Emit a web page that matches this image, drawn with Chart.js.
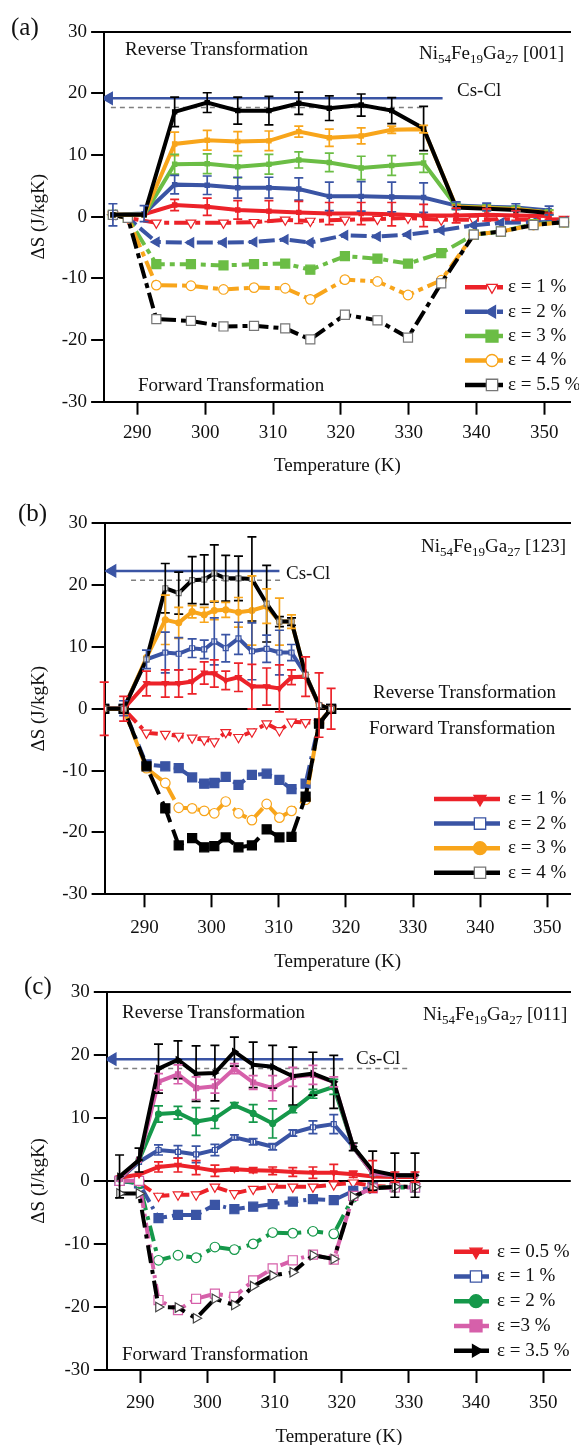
<!DOCTYPE html>
<html>
<head>
<meta charset="utf-8">
<script src="https://cdn.jsdelivr.net/npm/chart.js@4.4.1/dist/chart.umd.min.js"></script>
<style>
  html, body { margin: 0; padding: 0; background: #fff; }
  body { position: relative; width: 579px; height: 1445px; overflow: hidden;
         font-family: "Liberation Serif", "Times New Roman", serif; color: #111; }
  canvas { position: absolute; left: 0; }
  .note { position: absolute; font-size: 19px; line-height: 1; white-space: nowrap; transform: translateY(-50%); }
  .note sub { font-size: 13px; vertical-align: -4px; line-height: 0; }
  .tag { font-size: 25px; }
</style>
</head>
<body>
<canvas id="chartA" width="579" height="480" style="top:0"></canvas>
<canvas id="chartB" width="579" height="505" style="top:470px"></canvas>
<canvas id="chartC" width="579" height="500" style="top:950px"></canvas>

<div class="note tag" style="left:11px;top:26px">(a)</div>
<div class="note" style="left:125px;top:48px">Reverse Transformation</div>
<div class="note" style="left:419px;top:52px">Ni<sub>54</sub>Fe<sub>19</sub>Ga<sub>27</sub> [001]</div>
<div class="note" style="left:457px;top:89px">Cs-Cl</div>
<div class="note" style="left:138px;top:384px">Forward Transformation</div>

<div class="note tag" style="left:18px;top:512px">(b)</div>
<div class="note" style="left:421px;top:545px">Ni<sub>54</sub>Fe<sub>19</sub>Ga<sub>27</sub> [123]</div>
<div class="note" style="left:286px;top:572px">Cs-Cl</div>
<div class="note" style="left:373px;top:691px">Reverse Transformation</div>
<div class="note" style="left:369px;top:727px">Forward Transformation</div>

<div class="note tag" style="left:24px;top:985px">(c)</div>
<div class="note" style="left:122px;top:1011px">Reverse Transformation</div>
<div class="note" style="left:423px;top:1013px">Ni<sub>54</sub>Fe<sub>19</sub>Ga<sub>27</sub> [011]</div>
<div class="note" style="left:356px;top:1057px">Cs-Cl</div>
<div class="note" style="left:122px;top:1353px">Forward Transformation</div>

<script>
// axis ticks
const tempTicks = [290, 300, 310, 320, 330, 340, 350];
const dsTicks = [-30, -20, -10, 0, 10, 20, 30];

// ---- (a) [001] ----
const labelsA = ['ε = 1 %', 'ε = 2 %', 'ε = 3 %', 'ε = 4 %', 'ε = 5.5 %'];
const tempRevA = [286.4, 291.0, 295.5, 300.3, 304.8, 309.4, 313.8, 318.3, 323.0, 327.5, 332.2, 337.0, 341.5, 345.8, 350.7];
const revA_e1  = [0.3, 0.4, 1.9, 1.6, 1.1, 0.9, 0.7, 0.5, 0.5, 0.4, 0.2, 0.2, 0.3, 0.2, 0.1];
const revA_e2  = [0.3, 0.5, 5.2, 5.1, 4.7, 4.7, 4.5, 3.3, 3.3, 3.2, 3.1, 1.8, 1.6, 1.5, 1.0];
const revA_e3  = [0.3, 0.3, 8.5, 8.6, 8.1, 8.5, 9.2, 8.8, 7.9, 8.3, 8.7, 1.7, 1.5, 1.3, 0.7];
const revA_e4  = [0.3, 0.3, 11.8, 12.4, 12.2, 12.3, 13.8, 12.8, 13.1, 14.1, 14.2, 1.6, 1.4, 1.2, 0.7];
const revA_e55 = [0.3, 0.3, 17.0, 18.5, 17.2, 17.2, 18.4, 17.6, 18.1, 17.2, 14.3, 1.5, 1.3, 1.1, 0.6];
const errA_e1  = [0, 0, 0.9, 1.4, 1.5, 1.7, 1.8, 1.8, 1.8, 1.9, 1.8, 1.2, 1.0, 0.8, 0.5];
const errA_e2  = [1.8, 1.3, 1.5, 1.5, 1.7, 1.7, 1.8, 2.3, 2.4, 2.4, 2.4, 0.6, 0.6, 0.6, 0.7];
const errA_e3  = [0, 0, 1.6, 1.6, 1.8, 1.6, 1.3, 1.5, 1.9, 1.6, 1.5, 0.5, 0.5, 0.4, 0.4];
const errA_e4  = [0, 0, 1.9, 1.6, 1.6, 1.6, 0.9, 1.4, 1.3, 0.6, 0.6, 0.3, 0.3, 0.3, 0.3];
const errA_e55 = [0, 0, 2.4, 1.6, 2.2, 2.3, 1.8, 2.0, 1.8, 2.1, 3.6, 0, 0, 0, 0];
const tempFwdA = [286.4, 288.6, 292.8, 297.9, 302.7, 307.2, 311.8, 315.5, 320.6, 325.4, 329.9, 334.8, 339.6, 343.6, 348.4, 352.9];
const fwdA_e1  = [0.3, -0.2, -1.0, -1.0, -1.0, -0.9, -0.5, -0.7, -0.5, -0.4, -0.2, -0.5, -0.5, -0.4, -0.5, -0.4];
const fwdA_e2  = [0.3, -0.2, -4.1, -4.2, -4.2, -4.1, -3.7, -4.2, -3.0, -3.2, -2.9, -2.2, -1.4, -1.0, -0.9, -0.8];
const fwdA_e3  = [0.3, -0.2, -7.7, -7.7, -7.9, -7.7, -7.6, -8.6, -6.4, -6.8, -7.6, -5.9, -2.9, -2.4, -1.2, -0.9];
const fwdA_e4  = [0.3, -0.2, -11.1, -11.2, -11.8, -11.5, -11.6, -13.4, -10.2, -10.5, -12.7, -10.3, -2.9, -2.4, -1.35, -0.9];
const fwdA_e55 = [0.3, -0.2, -16.6, -16.9, -17.8, -17.7, -18.1, -19.9, -15.9, -16.8, -19.6, -10.8, -2.9, -2.4, -1.35, -0.9];
const arrowXA = [285.8, 335.0], arrowYA = [19.2, 19.2];
const cutXA = [286.1, 332.1], cutYA = [17.7, 17.7];

// ---- (b) [123] ----
const labelsB = ['ε = 1 %', 'ε = 2 %', 'ε = 3 %', 'ε = 4 %'];
const tempB = [284.0, 286.9, 290.3, 293.1, 295.1, 297.1, 298.9, 300.4, 302.1, 304.0, 306.0, 308.2, 310.1, 311.9, 314.0, 316.0, 317.8];
const revB_e1 = [0, 0, 4.1, 4.1, 4.1, 4.4, 5.8, 5.7, 4.6, 5.1, 3.6, 3.6, 3.3, 5.1, 5.2, 0.6, 0];
const revB_e2 = [0, 0.1, 8.0, 9.1, 8.9, 9.8, 9.6, 10.9, 9.8, 11.4, 9.3, 9.7, 9.1, 9.1, 5.5, 0.6, 0];
const revB_e3 = [0, 0, 8.3, 14.4, 13.9, 15.7, 15.2, 15.9, 16.0, 15.6, 15.9, 16.6, 14.1, 14.1, 5.5, 0.6, 0];
const revB_e4 = [0, 0, 8.0, 19.5, 18.7, 20.8, 20.9, 21.9, 21.1, 21.1, 21.0, 17.0, 14.1, 14.1, 5.5, 0.6, 0];
const errB_e1 = [4.3, 2.0, 2.0, 2.2, 2.2, 2.0, 1.8, 2.2, 1.5, 2.3, 3.6, 3.0, 3.8, 1.2, 3.2, 5.2, 3.3];
const errB_e2 = [0, 1.2, 1.5, 3.3, 2.6, 1.5, 1.5, 3.8, 2.2, 2.6, 4.6, 2.2, 3.6, 1.3, 0, 0, 0];
const errB_e3 = [0, 0, 0, 4.0, 2.5, 1.0, 1.2, 1.5, 1.2, 2.4, 5.6, 2.8, 3.8, 1.1, 0, 0, 0];
const errB_e4 = [0, 0, 0, 4.0, 3.4, 3.8, 4.0, 4.6, 3.7, 3.6, 6.8, 6.2, 0.8, 0.6, 0, 0, 0];
const fwdB_e1 = [0, 0, -3.9, -4.1, -4.4, -4.7, -5.0, -5.3, -3.8, -4.6, -3.7, -2.4, -3.5, -2.1, -2.2, -2.3, 0];
const fwdB_e2 = [0, 0, -9.0, -9.3, -9.6, -11.1, -12.1, -12.0, -11.0, -12.3, -10.7, -10.5, -11.5, -13.0, -12.1, -2.3, 0];
const fwdB_e3 = [0, 0, -9.6, -12.0, -16.0, -16.1, -16.5, -16.9, -15.0, -16.9, -18.0, -15.4, -17.6, -16.5, -14.7, -2.3, 0];
const fwdB_e4 = [0, 0, -9.3, -16.1, -22.1, -20.9, -22.4, -22.2, -20.8, -22.4, -22.1, -19.5, -20.8, -20.7, -14.2, -2.4, 0];
const arrowXB = [285.2, 310.1], arrowYB = [22.3, 22.3];
const cutXB = [288.0, 310.4], cutYB = [20.8, 20.8];

// ---- (c) [011] ----
const labelsC = ['ε = 0.5 %', 'ε = 1 %', 'ε = 2 %', 'ε =3 %', 'ε = 3.5 %'];
const tempC = [286.9, 289.8, 292.7, 295.6, 298.3, 301.1, 304.0, 306.8, 309.7, 312.7, 315.7, 318.8, 321.7, 324.6, 327.9, 330.9];
const revC_e05 = [0.5, 1.0, 2.2, 2.5, 2.1, 1.6, 1.85, 1.7, 1.6, 1.4, 1.3, 1.3, 1.05, 0.7, 0.6, 0.6];
const revC_e1  = [0.3, 3.0, 4.9, 4.6, 4.2, 4.9, 6.9, 6.2, 5.4, 7.6, 8.5, 9.0, 5.4, 1.2, 0.9, 0.9];
const revC_e2  = [0.3, 3.3, 10.6, 10.8, 9.4, 9.9, 12.0, 10.7, 9.1, 11.3, 13.8, 14.9, 5.4, 1.2, 0.9, 0.9];
const revC_e3  = [0.3, 3.3, 15.7, 16.9, 14.7, 15.0, 17.8, 15.6, 14.7, 16.5, 16.8, 15.7, 5.4, 1.2, 0.9, 0.9];
const revC_e35 = [0.7, 3.3, 17.8, 19.2, 17.0, 17.1, 20.5, 18.4, 18.1, 16.6, 17.0, 15.7, 5.4, 1.6, 0.9, 0.9];
const errC_e05 = [0, 0, 0.8, 1.1, 1.1, 0.9, 0.3, 0.4, 0.6, 0.7, 0.9, 1.3, 0.5, 2.5, 0.8, 0.8];
const errC_e1  = [0, 0, 0.8, 1.0, 1.3, 0.9, 0.4, 0.5, 0.5, 0.5, 1.0, 1.5, 0, 0, 0, 0];
const errC_e2  = [0, 0, 1.3, 1.0, 2.2, 1.6, 0.4, 1.4, 2.3, 0.5, 0.7, 1.2, 0, 0, 0, 0];
const errC_e3  = [0, 0, 1.3, 1.5, 1.8, 1.1, 0.8, 1.1, 2.0, 1.5, 1.5, 0.8, 0, 0, 0, 0];
const errC_e35 = [3.4, 1.9, 3.9, 3.0, 4.4, 4.4, 2.3, 3.6, 3.4, 4.6, 3.4, 4.2, 0.6, 3.1, 3.5, 3.5];
const fwdC_e05 = [0, -0.3, -2.4, -2.2, -2.2, -0.95, -2.0, -1.3, -0.95, -0.95, -0.95, -0.6, -0.3, -0.8, -0.95, -0.95];
const fwdC_e1  = [0, -0.4, -5.9, -5.4, -5.4, -3.8, -4.5, -4.1, -3.7, -3.3, -2.9, -3.05, -1.6, -1.05, -0.95, -1.05];
const fwdC_e2  = [0, -0.3, -12.6, -11.8, -12.2, -10.5, -10.9, -10.0, -8.2, -8.3, -8.0, -8.4, -2.6, -1.05, -1.05, -1.05];
const fwdC_e3  = [0, 0, -18.9, -20.5, -18.7, -17.9, -18.4, -15.8, -13.9, -12.6, -11.7, -12.5, -2.4, -1.2, -1.05, -1.05];
const fwdC_e35 = [-2.0, -2.0, -20.0, -20.1, -21.8, -18.7, -19.7, -16.7, -15.0, -14.5, -11.8, -12.4, -2.5, -1.2, -0.95, -0.95];
const arrowXC = [285.85, 320.2], arrowYC = [19.3, 19.3];
const cutXC = [286.1, 329.9], cutYC = [17.8, 17.8];

const red = '#ec2229', blue = '#3a54a4', greenA = '#6bbd45', orange = '#f8a51b',
      black = '#000000', greenC = '#15984a', pink = '#d660aa', gray = '#808080';

Chart.defaults.font.family = '"Liberation Serif", "Times New Roman", serif';
Chart.defaults.font.size = 19;
Chart.defaults.color = '#111';

function curve(xs, ys, o) {
  return {
    data: xs.map((x, i) => ({ x: x, y: ys[i] })),
    borderColor: o.color,
    borderWidth: o.width || 4,
    borderDash: o.dash || [],
    tension: 0,
    pointStyle: o.shape || 'rect',
    pointRotation: o.rot || 0,
    pointRadius: o.r !== undefined ? o.r : 3,
    pointBackgroundColor: o.open ? '#ffffff' : o.color,
    pointBorderColor: o.edge || o.color,
    pointBorderWidth: 1.2,
    legendRadius: o.lr || 6,
    errors: o.err || null
  };
}

// vertical error bars with caps
const errorBars = {
  id: 'errorBars',
  afterDatasetsDraw(chart) {
    const ctx = chart.ctx, ys = chart.scales.y;
    ctx.save();
    ctx.lineWidth = 1.7;
    chart.data.datasets.forEach((ds, i) => {
      if (!ds.errors) return;
      const meta = chart.getDatasetMeta(i);
      ctx.strokeStyle = ds.borderColor;
      meta.data.forEach((pt, j) => {
        const e = ds.errors[j];
        if (!e) return;
        const v = ds.data[j].y;
        const top = ys.getPixelForValue(v + e), bot = ys.getPixelForValue(v - e);
        ctx.beginPath();
        ctx.moveTo(pt.x, top); ctx.lineTo(pt.x, bot);
        ctx.moveTo(pt.x - 4.5, top); ctx.lineTo(pt.x + 4.5, top);
        ctx.moveTo(pt.x - 4.5, bot); ctx.lineTo(pt.x + 4.5, bot);
        ctx.stroke();
      });
    });
    ctx.restore();
  }
};

function drawSamples(ctx, lg) {
  ctx.save();
  ctx.font = '19px "Liberation Serif", "Times New Roman", serif';
  ctx.textBaseline = 'middle';
  lg.items.forEach((set, i) => {
    const y = lg.y + i * lg.step;
    ctx.strokeStyle = set.borderColor;
    ctx.lineWidth = 4.5;
    ctx.setLineDash(lg.dash);
    ctx.beginPath(); ctx.moveTo(lg.x, y); ctx.lineTo(lg.x + lg.len, y); ctx.stroke();
    ctx.setLineDash([]);
    ctx.fillStyle = set.pointBackgroundColor;
    ctx.strokeStyle = set.pointBorderColor;
    ctx.lineWidth = 1.3;
    Chart.helpers.drawPoint(ctx, { pointStyle: set.pointStyle, rotation: set.pointRotation, radius: set.legendRadius, borderWidth: 1.3 }, lg.markX, y);
    ctx.fillStyle = '#111';
    ctx.fillText(lg.labels[i], lg.textX, y);
  });
  ctx.restore();
}

function makePanel(id, cfg) {
  const legendPlugin = { id: 'sampleLegend', afterDraw(chart) { drawSamples(chart.ctx, cfg.legend); } };
  return new Chart(document.getElementById(id), {
    type: 'line',
    data: { datasets: cfg.datasets },
    options: {
      responsive: false,
      animation: false,
      events: [],
      layout: { padding: { top: cfg.top, left: 0, right: 0, bottom: 0 } },
      plugins: { legend: { display: false }, tooltip: { enabled: false } },
      scales: {
        x: {
          type: 'linear', position: 'bottom', min: cfg.xMin, max: cfg.xMax,
          afterBuildTicks: s => { s.ticks = tempTicks.map(v => ({ value: v })); },
          afterFit: s => { s.height = cfg.xHeight; },
          ticks: { padding: cfg.xPad, color: '#111', font: { size: 19 } },
          grid: { drawOnChartArea: false, tickLength: 13, tickColor: '#000', tickWidth: 2 },
          border: { color: '#000', width: 2 },
          title: { display: true, text: 'Temperature (K)', color: '#111', font: { size: 19 }, padding: { top: 0, bottom: cfg.titlePad } }
        },
        xTop: {
          type: 'linear', position: 'top', min: cfg.xMin, max: cfg.xMax,
          afterFit: s => { s.height = 0; },
          ticks: { display: false },
          grid: { display: false, drawTicks: false },
          border: { display: true, color: '#000', width: 2 }
        },
        y: {
          type: 'linear', position: 'left', min: -30, max: 30,
          afterBuildTicks: s => { s.ticks = dsTicks.map(v => ({ value: v })); },
          afterFit: s => { s.width = cfg.left; },
          ticks: { padding: 4, color: '#111', font: { size: 19 } },
          grid: {
            drawOnChartArea: cfg.zeroLine,
            color: c => (c.tick && c.tick.value === 0) ? '#000' : 'rgba(0,0,0,0)',
            lineWidth: 2, tickLength: 13, tickColor: '#000', tickWidth: 2
          },
          border: { color: '#000', width: 2 },
          title: { display: true, text: 'ΔS (J/kgK)', color: '#111', font: { size: 19 }, padding: { top: 27.6, bottom: 0 } }
        }
      }
    },
    plugins: [errorBars, legendPlugin]
  });
}

// ---- panel (a) ----
const dashA = [16, 5, 5, 5];
const fwdSetsA = [
  curve(tempFwdA, fwdA_e1, { color: red, dash: dashA, shape: 'triangle', rot: 180, r: 5.5, open: true, lr: 6 }),
  curve(tempFwdA, fwdA_e2, { color: blue, dash: dashA, shape: 'triangle', rot: 270, r: 5.5, lr: 7 }),
  curve(tempFwdA, fwdA_e3, { color: greenA, dash: dashA, shape: 'rect', r: 6.4, lr: 8.5 }),
  curve(tempFwdA, fwdA_e4, { color: orange, dash: dashA, shape: 'circle', r: 4.8, open: true, lr: 6 }),
  curve(tempFwdA, fwdA_e55, { color: black, dash: dashA, shape: 'rect', r: 6.4, open: true, edge: '#777', lr: 8 })
];
makePanel('chartA', {
  top: 31.7, left: 104.1, xMin: 285.1, xMax: 353.9, xHeight: 78.3, xPad: 7, titlePad: 2.6, zeroLine: false,
  datasets: [
    curve(tempRevA, revA_e55, { color: black, err: errA_e55 }),
    curve(tempRevA, revA_e4, { color: orange, err: errA_e4 }),
    curve(tempRevA, revA_e3, { color: greenA, err: errA_e3 }),
    curve(tempRevA, revA_e2, { color: blue, err: errA_e2 }),
    curve(tempRevA, revA_e1, { color: red, err: errA_e1 }),
    ...fwdSetsA.slice().reverse(),
    curve(arrowXA, arrowYA, { color: blue, width: 2.5, shape: 'triangle', rot: 270, r: [7, 0] }),
    curve(cutXA, cutYA, { color: gray, width: 1.5, dash: [5, 4], r: 0 })
  ],
  legend: { items: fwdSetsA, labels: labelsA, x: 465, len: 38, markX: 492, textX: 508, y: 287.3, step: 24.4, dash: [22, 10, 6, 60] }
});

// ---- panel (b) ----
const revSetsB = [
  curve(tempB, revB_e1, { color: red, err: errB_e1, shape: 'triangle', rot: 180, r: 3.5, lr: 7 }),
  curve(tempB, revB_e2, { color: blue, err: errB_e2, shape: 'rect', r: 3.5, open: true, lr: 8 }),
  curve(tempB, revB_e3, { color: orange, err: errB_e3, shape: 'circle', r: 3, lr: 6.5 }),
  curve(tempB, revB_e4, { color: black, err: errB_e4, shape: 'rect', r: 3.5, open: true, edge: '#777', lr: 8 })
];
makePanel('chartB', {
  top: 53.3, left: 104.6, xMin: 284.06, xMax: 353.5, xHeight: 80.7, xPad: 9.5, titlePad: 1.9, zeroLine: true,
  datasets: [
    ...revSetsB.slice().reverse(),
    curve(tempB, fwdB_e4, { color: black, dash: [22, 8], shape: 'rect', r: 6.4 }),
    curve(tempB, fwdB_e3, { color: orange, dash: [16, 6], shape: 'circle', r: 4.8, open: true }),
    curve(tempB, fwdB_e2, { color: blue, dash: [14, 6, 3, 6], shape: 'rect', r: 6.4 }),
    curve(tempB, fwdB_e1, { color: red, dash: [12, 5, 4, 5], shape: 'triangle', rot: 180, r: 5.5, open: true }),
    curve(arrowXB, arrowYB, { color: blue, width: 2.5, shape: 'triangle', rot: 270, r: [7, 0] }),
    curve(cutXB, cutYB, { color: gray, width: 1.5, dash: [5, 4], r: 0 })
  ],
  legend: { items: revSetsB, labels: labelsB, x: 434, len: 66, markX: 480, textX: 508, y: 329, step: 24.6, dash: [] }
});

// ---- panel (c) ----
const revSetsC = [
  curve(tempC, revC_e05, { color: red, err: errC_e05, shape: 'triangle', rot: 180, r: 3.5, lr: 7 }),
  curve(tempC, revC_e1, { color: blue, err: errC_e1, shape: 'rect', r: 3.5, open: true, lr: 8 }),
  curve(tempC, revC_e2, { color: greenC, err: errC_e2, shape: 'circle', r: 3, lr: 6.5 }),
  curve(tempC, revC_e3, { color: pink, err: errC_e3, shape: 'rect', r: 3.5, lr: 8.5 }),
  curve(tempC, revC_e35, { color: black, err: errC_e35, shape: 'triangle', rot: 90, r: 3.5, lr: 7 })
];
makePanel('chartC', {
  top: 41.7, left: 106.8, xMin: 285.0, xMax: 354.1, xHeight: 80, xPad: 9, titlePad: 1.9, zeroLine: true,
  datasets: [
    ...revSetsC.slice().reverse(),
    curve(tempC, fwdC_e35, { color: black, dash: [18, 7, 4, 7], shape: 'triangle', rot: 90, r: 5.5, open: true, edge: '#444' }),
    curve(tempC, fwdC_e3, { color: pink, dash: [16, 6, 3, 6], shape: 'rect', r: 6.4, open: true }),
    curve(tempC, fwdC_e2, { color: greenC, dash: [16, 6, 4, 6], shape: 'circle', r: 4.8, open: true }),
    curve(tempC, fwdC_e1, { color: blue, dash: [14, 5, 3, 5], shape: 'rect', r: 6.4 }),
    curve(tempC, fwdC_e05, { color: red, dash: [14, 6], shape: 'triangle', rot: 180, r: 5.5, open: true }),
    curve(arrowXC, arrowYC, { color: blue, width: 2.5, shape: 'triangle', rot: 270, r: [7, 0] }),
    curve(cutXC, cutYC, { color: gray, width: 1.5, dash: [5, 4], r: 0 })
  ],
  legend: { items: revSetsC, labels: labelsC, x: 454, len: 35, markX: 476, textX: 497, y: 301.7, step: 24.75, dash: [] }
});
</script>
</body>
</html>
